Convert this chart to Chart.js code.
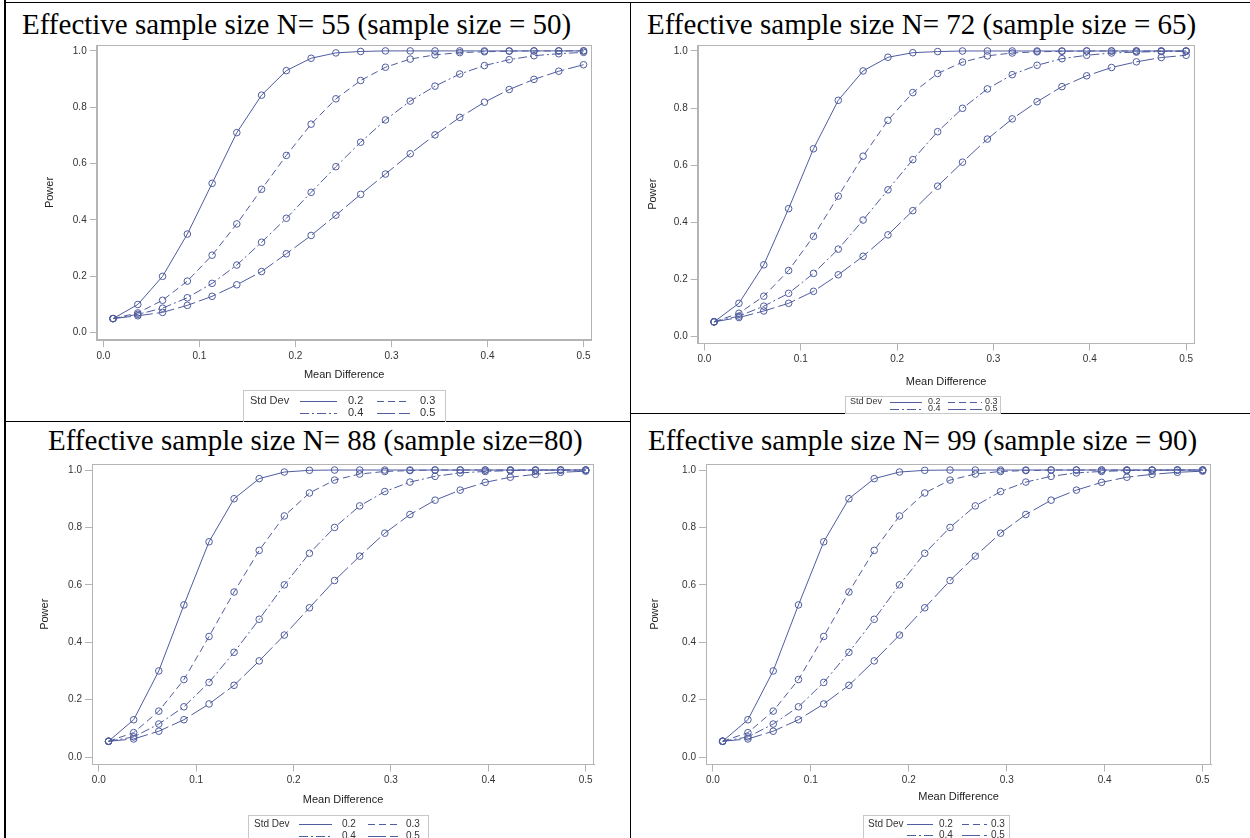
<!DOCTYPE html>
<html>
<head>
<meta charset="utf-8">
<script src="https://cdn.jsdelivr.net/npm/chart.js@4/dist/chart.umd.min.js"></script>
<style>
  body { margin: 0; width: 1250px; height: 838px; background: #fff; position: relative; overflow: hidden; }
  .rule { position: absolute; background: #000; }
  .title { position: absolute; font-family: "Liberation Serif", "Times New Roman", serif; font-size: 29px; line-height: 29px; color: #000; white-space: nowrap; }
  canvas { position: absolute; }
</style>
</head>
<body>
<div class="rule" style="left:4px;top:0;width:2px;height:838px"></div>
<div class="rule" style="left:4px;top:2px;width:1246px;height:1px"></div>
<div class="rule" style="left:630px;top:2px;width:1px;height:836px"></div>
<div class="rule" style="left:4px;top:421px;width:627px;height:1px"></div>
<div class="rule" style="left:630px;top:413px;width:620px;height:1px"></div>

<script>
// x values (mean difference) shared by every curve
const meanDiff = [0.01, 0.0358, 0.0616, 0.0874, 0.1132, 0.1389, 0.1647, 0.1905, 0.2163, 0.2421,
                  0.2679, 0.2937, 0.3195, 0.3453, 0.3711, 0.3968, 0.4226, 0.4484, 0.4742, 0.5];
const stdDevs = ["0.2", "0.3", "0.4", "0.5"];
const xTicks  = [0, 0.1, 0.2, 0.3, 0.4, 0.5];
const yTicks  = [0, 0.2, 0.4, 0.6, 0.8, 1.0];

// N = 55 (sample size 50)
const n55Sd02 = [0.05, 0.10, 0.20, 0.35, 0.53, 0.71, 0.843, 0.93, 0.974, 0.993, 0.998, 1, 1, 1, 1, 1, 1, 1, 1, 1];
const n55Sd03 = [0.05, 0.07, 0.115, 0.183, 0.275, 0.386, 0.509, 0.629, 0.740, 0.830, 0.895, 0.942, 0.971, 0.986, 0.994, 0.997, 0.999, 1, 1, 1];
const n55Sd04 = [0.05, 0.065, 0.087, 0.124, 0.175, 0.24, 0.321, 0.406, 0.498, 0.589, 0.676, 0.755, 0.822, 0.875, 0.918, 0.948, 0.969, 0.983, 0.99, 0.995];
const n55Sd05 = [0.05, 0.06, 0.072, 0.097, 0.129, 0.170, 0.217, 0.28, 0.345, 0.417, 0.491, 0.563, 0.635, 0.702, 0.764, 0.818, 0.863, 0.899, 0.928, 0.951];

// N = 72 (sample size 65)
const n72Sd02 = [0.05, 0.115, 0.25, 0.447, 0.657, 0.827, 0.930, 0.978, 0.994, 0.998, 1, 1, 1, 1, 1, 1, 1, 1, 1, 1];
const n72Sd03 = [0.05, 0.08, 0.14, 0.23, 0.35, 0.491, 0.631, 0.757, 0.854, 0.921, 0.961, 0.983, 0.993, 0.997, 0.999, 1, 1, 1, 1, 1];
const n72Sd04 = [0.05, 0.07, 0.105, 0.15, 0.22, 0.305, 0.407, 0.513, 0.619, 0.717, 0.799, 0.867, 0.917, 0.950, 0.973, 0.985, 0.993, 0.996, 0.998, 0.999];
const n72Sd05 = [0.05, 0.065, 0.088, 0.115, 0.157, 0.215, 0.28, 0.355, 0.44, 0.526, 0.610, 0.691, 0.762, 0.822, 0.875, 0.913, 0.942, 0.962, 0.977, 0.985];

// N = 88 (sample size 80)
const n88Sd02 = [0.055, 0.13, 0.30, 0.53, 0.75, 0.90, 0.97, 0.993, 0.999, 1, 1, 1, 1, 1, 1, 1, 1, 1, 1, 1];
const n88Sd03 = [0.055, 0.085, 0.16, 0.27, 0.42, 0.575, 0.72, 0.84, 0.92, 0.965, 0.986, 0.995, 0.998, 1, 1, 1, 1, 1, 1, 1];
const n88Sd04 = [0.055, 0.07, 0.115, 0.175, 0.26, 0.365, 0.48, 0.60, 0.71, 0.80, 0.875, 0.925, 0.958, 0.978, 0.99, 0.995, 0.998, 0.999, 1, 1];
const n88Sd05 = [0.055, 0.063, 0.09, 0.13, 0.185, 0.25, 0.335, 0.425, 0.52, 0.615, 0.70, 0.78, 0.845, 0.895, 0.93, 0.957, 0.975, 0.985, 0.992, 0.996];

// N = 99 (sample size 90)
const n99Sd02 = [0.055, 0.13, 0.30, 0.53, 0.75, 0.90, 0.97, 0.993, 0.999, 1, 1, 1, 1, 1, 1, 1, 1, 1, 1, 1];
const n99Sd03 = [0.055, 0.085, 0.16, 0.27, 0.42, 0.575, 0.72, 0.84, 0.92, 0.965, 0.986, 0.995, 0.998, 1, 1, 1, 1, 1, 1, 1];
const n99Sd04 = [0.055, 0.07, 0.115, 0.175, 0.26, 0.365, 0.48, 0.60, 0.71, 0.80, 0.875, 0.925, 0.958, 0.978, 0.99, 0.995, 0.998, 0.999, 1, 1];
const n99Sd05 = [0.055, 0.063, 0.09, 0.13, 0.185, 0.25, 0.335, 0.425, 0.52, 0.615, 0.70, 0.78, 0.845, 0.895, 0.93, 0.957, 0.975, 0.985, 0.992, 0.996];

const BLUE      = "#4f5c9e";
const AXIS_GRAY = "#b4b4b4";
const TEXT_GRAY = "#333333";
const DASHES    = [[], [7, 4], [9, 3, 2, 3], [18, 4]];

Chart.defaults.font.family = '"Liberation Sans", Arial, sans-serif';

// page geometry of each panel (frame = plot box, legend box in page px)
// legend cols: [Std Dev x, col1 line from, to, label x, col2 line from, to, label x] relative to box
const panels = [
  { title: "Effective sample size N= 55 (sample size = 50)", titleX: 22, titleBase: 34,
    series: [n55Sd02, n55Sd03, n55Sd04, n55Sd05],
    canvas: { left: 20, top: 36, width: 605, height: 386 },
    frame: { left: 96.7, top: 41, right: 591.7, bottom: 340 },
    yTitleX: 50, xTitleY: 375,
    legend: { x: 243, y: 390, w: 202, h: 32, font: 11, rows: [401, 413],
              cols: [7, 57, 94, 105, 134, 167, 177] } },
  { title: "Effective sample size N= 72 (sample size = 65)", titleX: 647, titleBase: 34,
    series: [n72Sd02, n72Sd03, n72Sd04, n72Sd05],
    canvas: { left: 640, top: 36, width: 600, height: 378 },
    frame: { left: 697.7, top: 42.7, right: 1194.3, bottom: 343.5 },
    yTitleX: 653, xTitleY: 382,
    legend: { x: 845, y: 396, w: 155, h: 17, font: 9, rows: [402, 409],
              cols: [5, 45, 77, 83, 103, 137, 140] } },
  { title: "Effective sample size N= 88 (sample size=80)", titleX: 48, titleBase: 450,
    series: [n88Sd02, n88Sd03, n88Sd04, n88Sd05],
    canvas: { left: 20, top: 455, width: 605, height: 383 },
    frame: { left: 92, top: 463, right: 594, bottom: 764.5 },
    yTitleX: 45, xTitleY: 800,
    legend: { x: 248, y: 815, w: 180, h: 32, font: 10, rows: [824, 836],
              cols: [6, 51, 84, 94, 120, 150, 158] } },
  { title: "Effective sample size N= 99 (sample size = 90)", titleX: 648, titleBase: 450,
    series: [n99Sd02, n99Sd03, n99Sd04, n99Sd05],
    canvas: { left: 640, top: 455, width: 605, height: 383 },
    frame: { left: 706, top: 463, right: 1211, bottom: 764.5 },
    yTitleX: 655, xTitleY: 797,
    legend: { x: 863, y: 815, w: 146, h: 30, font: 10, rows: [824, 835],
              cols: [5, 44, 70, 76, 99, 124, 128] } },
];

const framePlugin = {
  id: "frame",
  beforeDatasetsDraw(chart) {
    const a = chart.chartArea, ctx = chart.ctx;
    ctx.save();
    ctx.strokeStyle = AXIS_GRAY;
    ctx.lineWidth = 1;
    ctx.strokeRect(Math.round(a.left) + 0.5, Math.round(a.top) + 0.5,
                   Math.round(a.right - a.left) - 1, Math.round(a.bottom - a.top) - 1);
    ctx.restore();
  }
};

const sdLegendPlugin = {
  id: "sdLegend",
  afterDraw(chart, args, o) {
    const ctx = chart.ctx, x0 = o.x, k = o.cols;
    ctx.save();
    ctx.strokeStyle = "#c8c8c8";
    ctx.lineWidth = 1;
    ctx.strokeRect(Math.round(x0) + 0.5, Math.round(o.y) + 0.5, o.w, o.h);
    ctx.font = o.font + 'px "Liberation Sans", Arial, sans-serif';
    ctx.fillStyle = TEXT_GRAY;
    ctx.textBaseline = "middle";
    ctx.fillText("Std Dev", x0 + k[0], o.rows[0]);
    chart.data.datasets.forEach((ds, i) => {
      const rowY = o.rows[Math.floor(i / 2)];
      const col = i % 2;
      const from = col ? k[4] : k[1], to = col ? k[5] : k[2], lx = col ? k[6] : k[3];
      ctx.strokeStyle = ds.borderColor;
      ctx.setLineDash(ds.borderDash);
      ctx.beginPath();
      ctx.moveTo(x0 + from, Math.round(rowY) + 0.5);
      ctx.lineTo(x0 + to, Math.round(rowY) + 0.5);
      ctx.stroke();
      ctx.setLineDash([]);
      ctx.fillText(ds.label, x0 + lx, rowY);
    });
    ctx.restore();
  }
};

panels.forEach(p => {
  const t = document.createElement("div");
  t.className = "title";
  t.textContent = p.title;
  t.style.left = p.titleX + "px";
  t.style.top = (p.titleBase - 24.3) + "px";
  document.body.appendChild(t);

  const c = document.createElement("canvas");
  c.width = p.canvas.width;
  c.height = p.canvas.height;
  c.style.left = p.canvas.left + "px";
  c.style.top = p.canvas.top + "px";
  document.body.appendChild(c);

  const area = {
    left: p.frame.left - p.canvas.left, top: p.frame.top - p.canvas.top,
    right: p.frame.right - p.canvas.left, bottom: p.frame.bottom - p.canvas.top
  };
  const xHeight = 45;
  const titleHalf = 6.6;
  const xTitlePad = Math.max(0, (area.bottom + xHeight - titleHalf) - (p.xTitleY - p.canvas.top));
  const yTitlePad = Math.max(0, (p.yTitleX - p.canvas.left) - titleHalf);
  const lg = p.legend;

  new Chart(c, {
    type: "line",
    data: {
      datasets: stdDevs.map((sd, i) => ({
        label: sd,
        data: meanDiff.map((x, j) => ({ x: x, y: p.series[i][j] })),
        borderColor: BLUE,
        borderWidth: 1,
        borderDash: DASHES[i],
        pointRadius: 3.3,
        pointBorderColor: BLUE,
        pointBorderWidth: 1,
        pointBackgroundColor: "rgba(0,0,0,0)",
        tension: 0,
      }))
    },
    options: {
      responsive: false,
      animation: false,
      devicePixelRatio: 1,
      layout: { padding: { left: 0, top: area.top, right: p.canvas.width - area.right,
                           bottom: p.canvas.height - area.bottom - xHeight } },
      plugins: {
        legend: { display: false },
        tooltip: { enabled: false },
        sdLegend: { x: lg.x - p.canvas.left, y: lg.y - p.canvas.top, w: lg.w, h: lg.h, font: lg.font,
                    rows: lg.rows.map(r => r - p.canvas.top), cols: lg.cols },
      },
      scales: {
        x: {
          type: "linear", min: -0.007, max: 0.5085,
          afterBuildTicks: s => { s.ticks = xTicks.map(v => ({ value: v })); },
          afterFit: s => { s.height = xHeight; },
          grid: { drawOnChartArea: false, tickLength: 7, color: AXIS_GRAY },
          border: { color: AXIS_GRAY },
          ticks: { autoSkip: false, maxRotation: 0, padding: 3, color: TEXT_GRAY, font: { size: 10 },
                   callback: v => v.toFixed(1) },
          title: { display: true, text: "Mean Difference", color: "#222", font: { size: 11 },
                   padding: { top: 0, bottom: xTitlePad } },
        },
        y: {
          min: -0.026, max: 1.021,
          afterBuildTicks: s => { s.ticks = yTicks.map(v => ({ value: v })); },
          afterFit: s => { s.width = area.left; },
          grid: { drawOnChartArea: false, tickLength: 7, color: AXIS_GRAY },
          border: { color: AXIS_GRAY },
          ticks: { autoSkip: false, padding: 3, color: TEXT_GRAY, font: { size: 10 },
                   callback: v => v.toFixed(1) },
          title: { display: true, text: "Power", color: "#222", font: { size: 11 },
                   padding: { top: yTitlePad, bottom: 0 } },
        }
      }
    },
    plugins: [framePlugin, sdLegendPlugin]
  });
});
</script>
</body>
</html>
